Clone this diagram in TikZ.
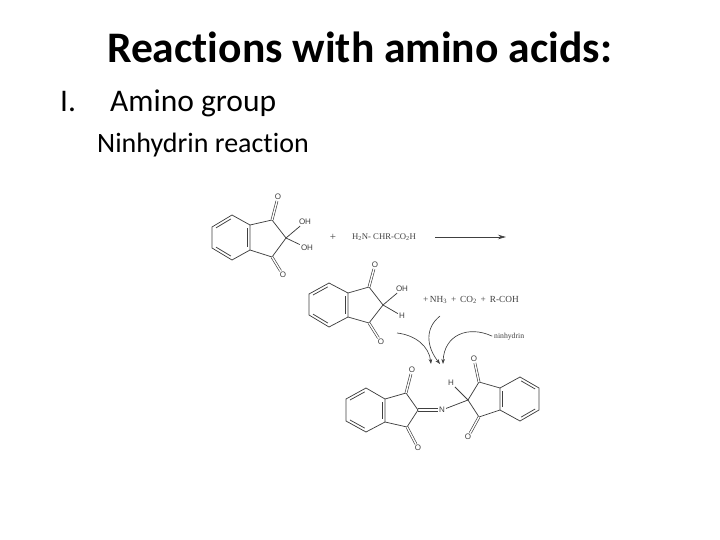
\documentclass[tikz,border=0pt]{standalone}
\usepackage{fontspec}
\setmainfont{Carlito}[Ligatures=NoCommon]
\newfontfamily\chemfont{Liberation Serif}
\newfontfamily\atomfont{Liberation Sans}
\usetikzlibrary{calc,arrows.meta}
\definecolor{ink}{HTML}{404040}
\tikzset{
  bond/.style={draw=ink,line width=.75pt},
  cobond/.style={draw=ink,line width=.65pt,double=white,double distance=1.4pt},
  atomlabel/.style={font=\atomfont\fontsize{8}{8}\selectfont,text=ink,inner sep=1pt},
  chemtext/.style={font=\chemfont\fontsize{8}{8}\selectfont,text=ink,inner sep=0pt},
  curvearrow/.style={draw=ink,line width=.65pt,-{Stealth[length=5pt,width=3.5pt]}},
}
\newcommand{\ringdbl}[2]{\draw[bond] ($(#1)!.13!(#2)!2.8pt!-90:(#2)$) -- ($(#1)!.87!(#2)!2.8pt!-90:(#2)$);}
\newcommand{\ringpath}[6]{\draw[bond] (#1) -- (#2) -- (#3) -- (#4) -- (#5) -- (#6) -- cycle;}
\begin{document}
\begin{tikzpicture}[x=1pt,y=-1pt]
\useasboundingbox (0,0) rectangle (720,540);
\node[anchor=base,inner sep=0pt,font=\bfseries\fontsize{43.6}{43.6}\selectfont] (title) at (359.5,63) {Reactions with amino acids:};
\node[anchor=base west,inner sep=0pt,font=\fontsize{31.5}{31.5}\selectfont] (num) at (60,112) {I.};
\node[anchor=base west,inner sep=0pt,font=\fontsize{31.5}{31.5}\selectfont] (sub) at (110,112) {Amino group};
\node[anchor=base west,inner sep=0pt,font=\fontsize{28}{28}\selectfont] (nin) at (97,153) {Ninhydrin reaction};

% molecule 1
\coordinate (a1) at (232,215); \coordinate (a2) at (250,225); \coordinate (a3) at (250,250);
\coordinate (a4) at (232,260); \coordinate (a5) at (212,248); \coordinate (a6) at (212,227);
\coordinate (a7) at (272,220); \coordinate (a8) at (286,238); \coordinate (a9) at (272,257);
\ringpath{a1}{a2}{a3}{a4}{a5}{a6}
\ringdbl{a2}{a3}\ringdbl{a4}{a5}\ringdbl{a6}{a1}
\draw[bond] (a2) -- (a7) -- (a8) -- (a9) -- (a3);
\node[atomlabel] (ao1) at (278,197) {O};
\node[atomlabel] (ao2) at (283,275) {O};
\node[atomlabel] (aoh1) at (305,222) {OH};
\node[atomlabel] (aoh2) at (307,248) {OH};
\draw[cobond] (a7) -- (ao1);
\draw[cobond] (a9) -- (ao2);
\draw[bond] (a8) -- (aoh1);
\draw[bond] (a8) -- (aoh2);
\node[chemtext,font=\chemfont\fontsize{11}{11}\selectfont] (plus) at (333,237) {+};
\node[chemtext,font=\chemfont\fontsize{8.7}{8.7}\selectfont] (aa) at (384,237) {H\textsubscript{2}N- CHR-CO\textsubscript{2}H};
\coordinate (arrs) at (435,237); \coordinate (arre) at (506,237);
\draw[draw=ink,line width=.7pt,-{Stealth[length=8pt,width=4.5pt]}] (arrs) -- (arre);

% molecule 2
\coordinate (b1) at (329,283); \coordinate (b2) at (348,293); \coordinate (b3) at (348,317);
\coordinate (b4) at (329,327); \coordinate (b5) at (309,315); \coordinate (b6) at (309,294);
\coordinate (b7) at (369,287); \coordinate (b8) at (383,305); \coordinate (b9) at (369,323);
\ringpath{b1}{b2}{b3}{b4}{b5}{b6}
\ringdbl{b2}{b3}\ringdbl{b4}{b5}\ringdbl{b6}{b1}
\draw[bond] (b2) -- (b7) -- (b8) -- (b9) -- (b3);
\node[atomlabel] (bo1) at (375,265) {O};
\node[atomlabel] (bo2) at (381,342) {O};
\node[atomlabel] (boh) at (402,289) {OH};
\node[atomlabel] (bh) at (402,316) {H};
\draw[cobond] (b7) -- (bo1);
\draw[cobond] (b9) -- (bo2);
\draw[bond] (b8) -- (boh);
\draw[bond] (b8) -- (bh);
\node[chemtext,anchor=west,font=\chemfont\fontsize{9.3}{9.3}\selectfont] (prod) at (423,300) {+\,NH\textsubscript{3} \,+\, CO\textsubscript{2} \,+\, R-COH};
\node[chemtext,anchor=west,font=\chemfont\fontsize{7.7}{7.7}\selectfont] (nh) at (494,337) {ninhydrin};

% curved arrows
\coordinate (c1s) at (397,333); \coordinate (c1e) at (431,364);
\coordinate (c2s) at (440,316); \coordinate (c2e) at (440,364);
\coordinate (c3e) at (443,364);
\draw[curvearrow] (c1s) .. controls (415,335) and (429,346) .. (c1e);
\draw[curvearrow] (c2s) .. controls (425,328) and (426,346) .. (c2e);
\draw[curvearrow,shorten <=2pt] (nh.west) .. controls (468,325) and (444,335) .. (c3e);

% molecule 3
\coordinate (d1) at (366,388); \coordinate (d2) at (385,399); \coordinate (d3) at (385,422);
\coordinate (d4) at (366,432); \coordinate (d5) at (346,421); \coordinate (d6) at (346,399);
\coordinate (d7) at (406,393); \coordinate (d8) at (418,410); \coordinate (d9) at (407,427);
\ringpath{d1}{d2}{d3}{d4}{d5}{d6}
\ringdbl{d2}{d3}\ringdbl{d4}{d5}\ringdbl{d6}{d1}
\draw[bond] (d2) -- (d7) -- (d8) -- (d9) -- (d3);
\node[atomlabel] (do1) at (412,370) {O};
\node[atomlabel] (do2) at (418,448) {O};
\node[atomlabel] (nit) at (442,410) {N};
\draw[cobond] (d7) -- (do1);
\draw[cobond] (d9) -- (do2);
\draw[bond] ($(d8)+(0,-1.2)$) -- ($(nit.west)+(0,-1.2)$);
\draw[bond] ($(d8)+(0,1.2)$) -- ($(nit.west)+(0,1.2)$);
\coordinate (e1) at (500,388); \coordinate (e2) at (520,377); \coordinate (e3) at (539,388);
\coordinate (e4) at (539,410); \coordinate (e5) at (520,421); \coordinate (e6) at (500,410);
\coordinate (e7) at (479,382); \coordinate (e8) at (468,400); \coordinate (e9) at (479,417);
\ringpath{e1}{e2}{e3}{e4}{e5}{e6}
\ringdbl{e2}{e3}\ringdbl{e4}{e5}\ringdbl{e6}{e1}
\draw[bond] (e1) -- (e7) -- (e8) -- (e9) -- (e6);
\node[atomlabel] (eo1) at (474,359) {O};
\node[atomlabel] (eo2) at (468,437) {O};
\node[atomlabel] (eh) at (451,383) {H};
\draw[cobond] (e7) -- (eo1);
\draw[cobond] (e9) -- (eo2);
\draw[bond] (e8) -- (eh);
\draw[bond] (e8) -- (nit);
\end{tikzpicture}
\end{document}
